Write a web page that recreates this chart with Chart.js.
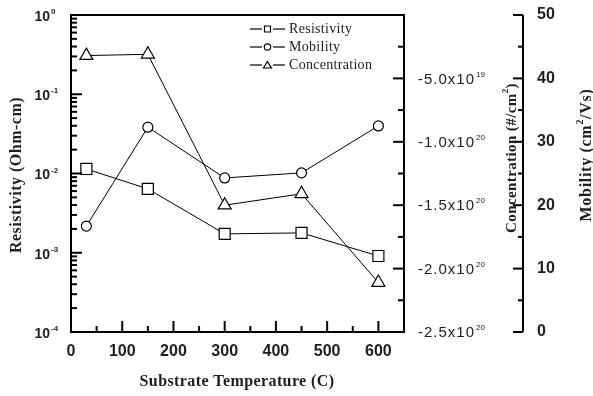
<!DOCTYPE html>
<html>
<head>
<meta charset="utf-8">
<script src="https://cdn.jsdelivr.net/npm/chart.js@4.4.0/dist/chart.umd.min.js"></script>
<style>
html, body { margin: 0; padding: 0; background: #fff; }
</style>
</head>
<body>
<canvas id="chart" width="593" height="396"></canvas>
<script>
// data
const temps = [30, 150, 300, 450, 600];
const resistivity = [0.0114, 0.0064, 0.00173, 0.00178, 0.00091];
const mobility = [16.7, 32.3, 24.3, 25.1, 32.5];
const concentration = [-3.2e19, -3.1e19, -1.5e20, -1.41e20, -2.11e20];

const seriesNames = ['Resistivity', 'Mobility', 'Concentration'];
const markers = ['rect', 'circle', 'triangle'];

// tick labels
const xTicks = [0, 100, 200, 300, 400, 500, 600];
const logTicks = [1, 1e-1, 1e-2, 1e-3, 1e-4];
const logExps = ['0', '-1', '-2', '-3', '-4'];
const concTicks = [-5e19, -1e20, -1.5e20, -2e20, -2.5e20];
const concBase = ['-5.0x10', '-1.0x10', '-1.5x10', '-2.0x10', '-2.5x10'];
const concExps = ['19', '20', '20', '20', '20'];
const mobTicks = [0, 10, 20, 30, 40, 50];

const ink = '#1e1e1e';
const serif = '"Liberation Serif", "Times New Roman", serif';
const sans = '"Liberation Sans", Arial, sans-serif';

function pts(ys) {
    return temps.map((t, i) => ({ x: t, y: ys[i] }));
}

function makeSet(name, ys, axis, style, r) {
    return {
        label: name,
        data: pts(ys),
        yAxisID: axis,
        borderColor: '#000',
        borderWidth: 1,
        pointStyle: style,
        pointRadius: r,
        pointBackgroundColor: '#fff',
        pointBorderColor: '#000',
        pointBorderWidth: 1.2,
        tension: 0
    };
}

// draw a string where some pieces are superscripts
function drawParts(ctx, parts, x, y, size, family, weight, align, spacing) {
    const supSize = Math.round(size * 0.6);
    ctx.letterSpacing = (spacing || 0) + 'px';
    let w = 0;
    parts.forEach(p => {
        ctx.font = weight + ' ' + (p.sup ? supSize : size) + 'px ' + family;
        w += ctx.measureText(p.t).width;
    });
    let cx = align === 'center' ? x - w / 2 : (align === 'right' ? x - w : x);
    ctx.textAlign = 'left';
    ctx.textBaseline = 'middle';
    parts.forEach(p => {
        ctx.font = weight + ' ' + (p.sup ? supSize : size) + 'px ' + family;
        ctx.fillText(p.t, cx, p.sup ? y - size * 0.4 : y);
        cx += ctx.measureText(p.t).width;
    });
    ctx.letterSpacing = '0px';
}

function tick(ctx, x1, y1, x2, y2) {
    ctx.beginPath();
    ctx.moveTo(x1, y1);
    ctx.lineTo(x2, y2);
    ctx.stroke();
}

// no automatic label padding, the layout is fixed
function noPad(s) {
    s.paddingTop = 0;
    s.paddingBottom = 0;
    s.paddingLeft = 0;
    s.paddingRight = 0;
}

const decorations = {
    id: 'decorations',
    afterDatasetsDraw(chart) {
        const { ctx, chartArea: a, scales } = chart;
        ctx.save();
        ctx.strokeStyle = '#000';
        ctx.fillStyle = ink;
        ctx.lineWidth = 2;
        ctx.strokeRect(a.left, a.top, a.right - a.left, a.bottom - a.top);

        // left log axis ticks, pointing inward
        for (let k = -4; k < 0; k++) {
            for (let m = 1; m <= 9; m++) {
                const y = scales.y.getPixelForValue(m * Math.pow(10, k));
                tick(ctx, a.left, y, a.left + (m === 1 ? 11 : 6), y);
            }
        }
        // bottom axis ticks
        for (let v = 50; v <= 600; v += 50) {
            const x = scales.x.getPixelForValue(v);
            tick(ctx, x, a.bottom, x, a.bottom - (v % 100 === 0 ? 11 : 6));
        }
        // concentration axis (right frame edge)
        for (let i = 1; i < 10; i++) {
            const y = scales.yC.getPixelForValue(-i * 2.5e19);
            tick(ctx, a.right, y, a.right - (i % 2 === 0 ? 11 : 6), y);
        }
        // mobility axis, separate line
        const mx = scales.yM.left;
        tick(ctx, mx, a.top, mx, a.bottom);
        for (let v = 0; v <= 50; v += 5) {
            const y = scales.yM.getPixelForValue(v);
            tick(ctx, mx, y, mx - (v % 10 === 0 ? 10 : 5), y);
        }

        // log tick labels
        logTicks.forEach((v, i) => {
            const y = scales.y.getPixelForValue(v);
            ctx.font = 'bold 14px ' + sans;
            ctx.textAlign = 'right';
            ctx.textBaseline = 'middle';
            ctx.fillText('10', 50, y + 2);
            ctx.font = 'bold 8px ' + sans;
            ctx.textAlign = 'left';
            ctx.fillText(logExps[i], 51, y - 3);
        });
        // concentration tick labels
        concTicks.forEach((v, i) => {
            const y = scales.yC.getPixelForValue(v);
            ctx.fillStyle = ink;
            ctx.letterSpacing = '1px';
            ctx.font = '15px ' + sans;
            ctx.textAlign = 'left';
            ctx.textBaseline = 'middle';
            ctx.fillText(concBase[i], 418, y + 1);
            const w = ctx.measureText(concBase[i]).width;
            ctx.letterSpacing = '0px';
            ctx.font = '8px ' + sans;
            ctx.fillText(concExps[i], 418 + w + 1, y - 4);
        });

        // axis titles
        drawParts(ctx, [{ t: 'Substrate Temperature (C)' }], 237, 382, 16, serif, 'bold', 'center', 0.4);
        const vtitle = (parts, x, y, size, sp) => {
            ctx.save();
            ctx.translate(x, y);
            ctx.rotate(-Math.PI / 2);
            drawParts(ctx, parts, 0, 0, size, serif, 'bold', 'center', sp);
            ctx.restore();
        };
        vtitle([{ t: 'Resistivity (Ohm-cm)' }], 17, 175, 16, 0.5);
        vtitle([{ t: 'Concentration (#/cm' }, { t: '2', sup: true }, { t: ')' }], 512, 158, 15, 0.4);
        vtitle([{ t: 'Mobility (cm' }, { t: '2', sup: true }, { t: '/Vs)' }], 587, 155, 16, 0.7);

        // legend inside the plot, top right
        ctx.lineWidth = 1.2;
        chart.data.datasets.forEach((ds, i) => {
            const y = 29 + i * 18;
            tick(ctx, 250, y, 262, y);
            tick(ctx, 273, y, 285, y);
            ctx.fillStyle = '#fff';
            ctx.beginPath();
            if (markers[i] === 'rect') {
                ctx.rect(264.5, y - 3, 6, 6);
            } else if (markers[i] === 'circle') {
                ctx.arc(267.5, y, 3.2, 0, Math.PI * 2);
            } else {
                ctx.moveTo(267.5, y - 3.5);
                ctx.lineTo(271.5, y + 3);
                ctx.lineTo(263.5, y + 3);
                ctx.closePath();
            }
            ctx.fill();
            ctx.stroke();
            ctx.fillStyle = ink;
            ctx.font = '14px ' + serif;
            ctx.letterSpacing = '0.3px';
            ctx.textAlign = 'left';
            ctx.textBaseline = 'middle';
            ctx.fillText(ds.label, 289, y);
            ctx.letterSpacing = '0px';
        });
        ctx.restore();
    }
};

const ctx = document.getElementById('chart').getContext('2d');
const chart = new Chart(ctx, {
    type: 'line',
    data: {
        datasets: [
            makeSet(seriesNames[0], resistivity, 'y', markers[0], 7.8),
            makeSet(seriesNames[1], mobility, 'yM', markers[1], 5),
            makeSet(seriesNames[2], concentration, 'yC', markers[2], 7.5)
        ]
    },
    options: {
        responsive: false,
        animation: false,
        devicePixelRatio: 1,
        layout: { padding: { top: 15, left: 0, right: 0, bottom: 0 } },
        plugins: { legend: { display: false }, tooltip: { enabled: false } },
        scales: {
            x: {
                type: 'linear',
                position: 'bottom',
                min: 0,
                max: 650,
                grid: { display: false, drawTicks: false },
                border: { display: false },
                afterBuildTicks: s => { s.ticks = xTicks.map(v => ({ value: v })); },
                afterFit: s => { s.height = 64; noPad(s); },
                ticks: {
                    padding: 10,
                    color: ink,
                    font: { family: sans, size: 16, weight: 'bold' }
                }
            },
            y: {
                type: 'logarithmic',
                position: 'left',
                min: 1e-4,
                max: 1,
                grid: { display: false, drawTicks: false },
                border: { display: false },
                ticks: { display: false },
                afterFit: s => { s.width = 71; noPad(s); }
            },
            yC: {
                type: 'linear',
                position: 'right',
                weight: 0,
                min: -2.5e20,
                max: 0,
                grid: { display: false, drawTicks: false },
                border: { display: false },
                ticks: { display: false },
                afterFit: s => { s.width = 119; noPad(s); }
            },
            yM: {
                type: 'linear',
                position: 'right',
                weight: 1,
                min: 0,
                max: 50,
                grid: { display: false, drawTicks: false },
                border: { display: false },
                afterBuildTicks: s => { s.ticks = mobTicks.map(v => ({ value: v })); },
                afterFit: s => { s.width = 70; noPad(s); },
                ticks: {
                    padding: 14,
                    color: ink,
                    font: { family: sans, size: 16, weight: 'bold' }
                }
            }
        }
    },
    plugins: [decorations]
});
</script>
</body>
</html>
